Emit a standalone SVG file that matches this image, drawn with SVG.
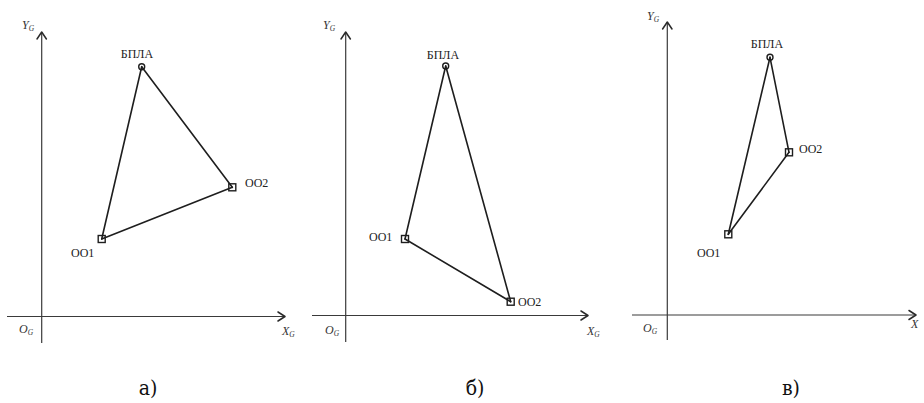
<svg xmlns="http://www.w3.org/2000/svg" width="924" height="403" viewBox="0 0 924 403">
<style>
.axis{stroke:#3a3a3a;stroke-width:1.2;fill:none}
.arr{stroke:#2a2a2a;stroke-width:1.5;fill:none;stroke-linecap:round;stroke-linejoin:round}
.edge{stroke:#1e1e1e;stroke-width:1.6;fill:none;stroke-linecap:round}
.mk{stroke:#1e1e1e;stroke-width:1.4;fill:none}
.lbl{font-family:"Liberation Serif","Times New Roman",serif;font-size:12px;fill:#222}
.ax{font-family:"Liberation Serif","Times New Roman",serif;font-style:italic;font-size:12px;fill:#333}
.sub{font-size:7.5px}
.cap{font-family:"DejaVu Serif Condensed","DejaVu Serif",serif;font-size:21px;fill:#111}
</style>
<rect width="924" height="403" fill="#ffffff"/>

<!-- Panel a -->
<g id="axes-a">
<line class="axis" x1="41.7" y1="32" x2="41.7" y2="343"/>
<polyline class="arr" points="37,39 41.7,32 46.4,39"/>
<line class="axis" x1="7" y1="316.5" x2="285" y2="316.5"/>
<polyline class="arr" points="278,312 285,316.5 278,321"/>
<text class="ax" x="22" y="29">Y<tspan class="sub" dy="2">G</tspan></text>
<text class="ax" x="19" y="333">O<tspan class="sub" dy="2">G</tspan></text>
<text class="ax" x="282" y="335">X<tspan class="sub" dy="2">G</tspan></text>
</g>
<g id="connectors-a">
<line class="edge" x1="141.7" y1="66.7" x2="101.7" y2="239"/>
<line class="edge" x1="141.7" y1="66.7" x2="232.3" y2="187.3"/>
<line class="edge" x1="101.7" y1="239" x2="232.3" y2="187.3"/>
</g>
<g id="bpla-a"><circle class="mk" cx="141.7" cy="66.7" r="3"/><text class="lbl" x="137" y="58" text-anchor="middle">БПЛА</text></g>
<g id="oo1-a"><rect class="mk" x="98.2" y="235.5" width="7" height="7"/><text class="lbl" x="71" y="257">OO1</text></g>
<g id="oo2-a"><rect class="mk" x="228.8" y="183.8" width="7" height="7"/><text class="lbl" x="245" y="187">OO2</text></g>

<!-- Panel b -->
<g id="axes-b">
<line class="axis" x1="345.7" y1="32" x2="345.7" y2="342"/>
<polyline class="arr" points="341,39 345.7,32 350.4,39"/>
<line class="axis" x1="312" y1="315.5" x2="588" y2="315.5"/>
<polyline class="arr" points="581,311 588,315.5 581,320"/>
<text class="ax" x="323" y="29">Y<tspan class="sub" dy="2">G</tspan></text>
<text class="ax" x="325" y="334">O<tspan class="sub" dy="2">G</tspan></text>
<text class="ax" x="587" y="335">X<tspan class="sub" dy="2">G</tspan></text>
</g>
<g id="connectors-b">
<line class="edge" x1="445.7" y1="66" x2="405" y2="239"/>
<line class="edge" x1="445.7" y1="66" x2="510.7" y2="301.7"/>
<line class="edge" x1="405" y1="239" x2="510.7" y2="301.7"/>
</g>
<g id="bpla-b"><circle class="mk" cx="445.7" cy="66" r="3"/><text class="lbl" x="443" y="59" text-anchor="middle">БПЛА</text></g>
<g id="oo1-b"><rect class="mk" x="401.5" y="235.5" width="7" height="7"/><text class="lbl" x="369" y="241">OO1</text></g>
<g id="oo2-b"><rect class="mk" x="507.2" y="298.2" width="7" height="7"/><text class="lbl" x="518" y="306">OO2</text></g>

<!-- Panel c -->
<g id="axes-c">
<line class="axis" x1="667.3" y1="22" x2="667.3" y2="340"/>
<polyline class="arr" points="662.6,29 667.3,22 672,29"/>
<line class="axis" x1="632" y1="315" x2="916" y2="315"/>
<polyline class="arr" points="909,310.5 916,315 909,319.5"/>
<text class="ax" x="647" y="20">Y<tspan class="sub" dy="2">G</tspan></text>
<text class="ax" x="643" y="332">O<tspan class="sub" dy="2">G</tspan></text>
<text class="ax" x="911" y="328">X</text>
</g>
<g id="connectors-c">
<line class="edge" x1="770" y1="57.3" x2="728.3" y2="234.3"/>
<line class="edge" x1="770" y1="57.3" x2="789" y2="152.3"/>
<line class="edge" x1="728.3" y1="234.3" x2="789" y2="152.3"/>
</g>
<g id="bpla-c"><circle class="mk" cx="770" cy="57.3" r="3"/><text class="lbl" x="767" y="48" text-anchor="middle">БПЛА</text></g>
<g id="oo1-c"><rect class="mk" x="724.8" y="230.8" width="7" height="7"/><text class="lbl" x="697" y="257">OO1</text></g>
<g id="oo2-c"><rect class="mk" x="785.5" y="148.8" width="7" height="7"/><text class="lbl" x="799" y="153">OO2</text></g>

<!-- Captions -->
<text class="cap" x="148" y="395" text-anchor="middle">а)</text>
<text class="cap" x="475" y="395" text-anchor="middle">б)</text>
<text class="cap" x="791" y="395" text-anchor="middle">в)</text>
</svg>
